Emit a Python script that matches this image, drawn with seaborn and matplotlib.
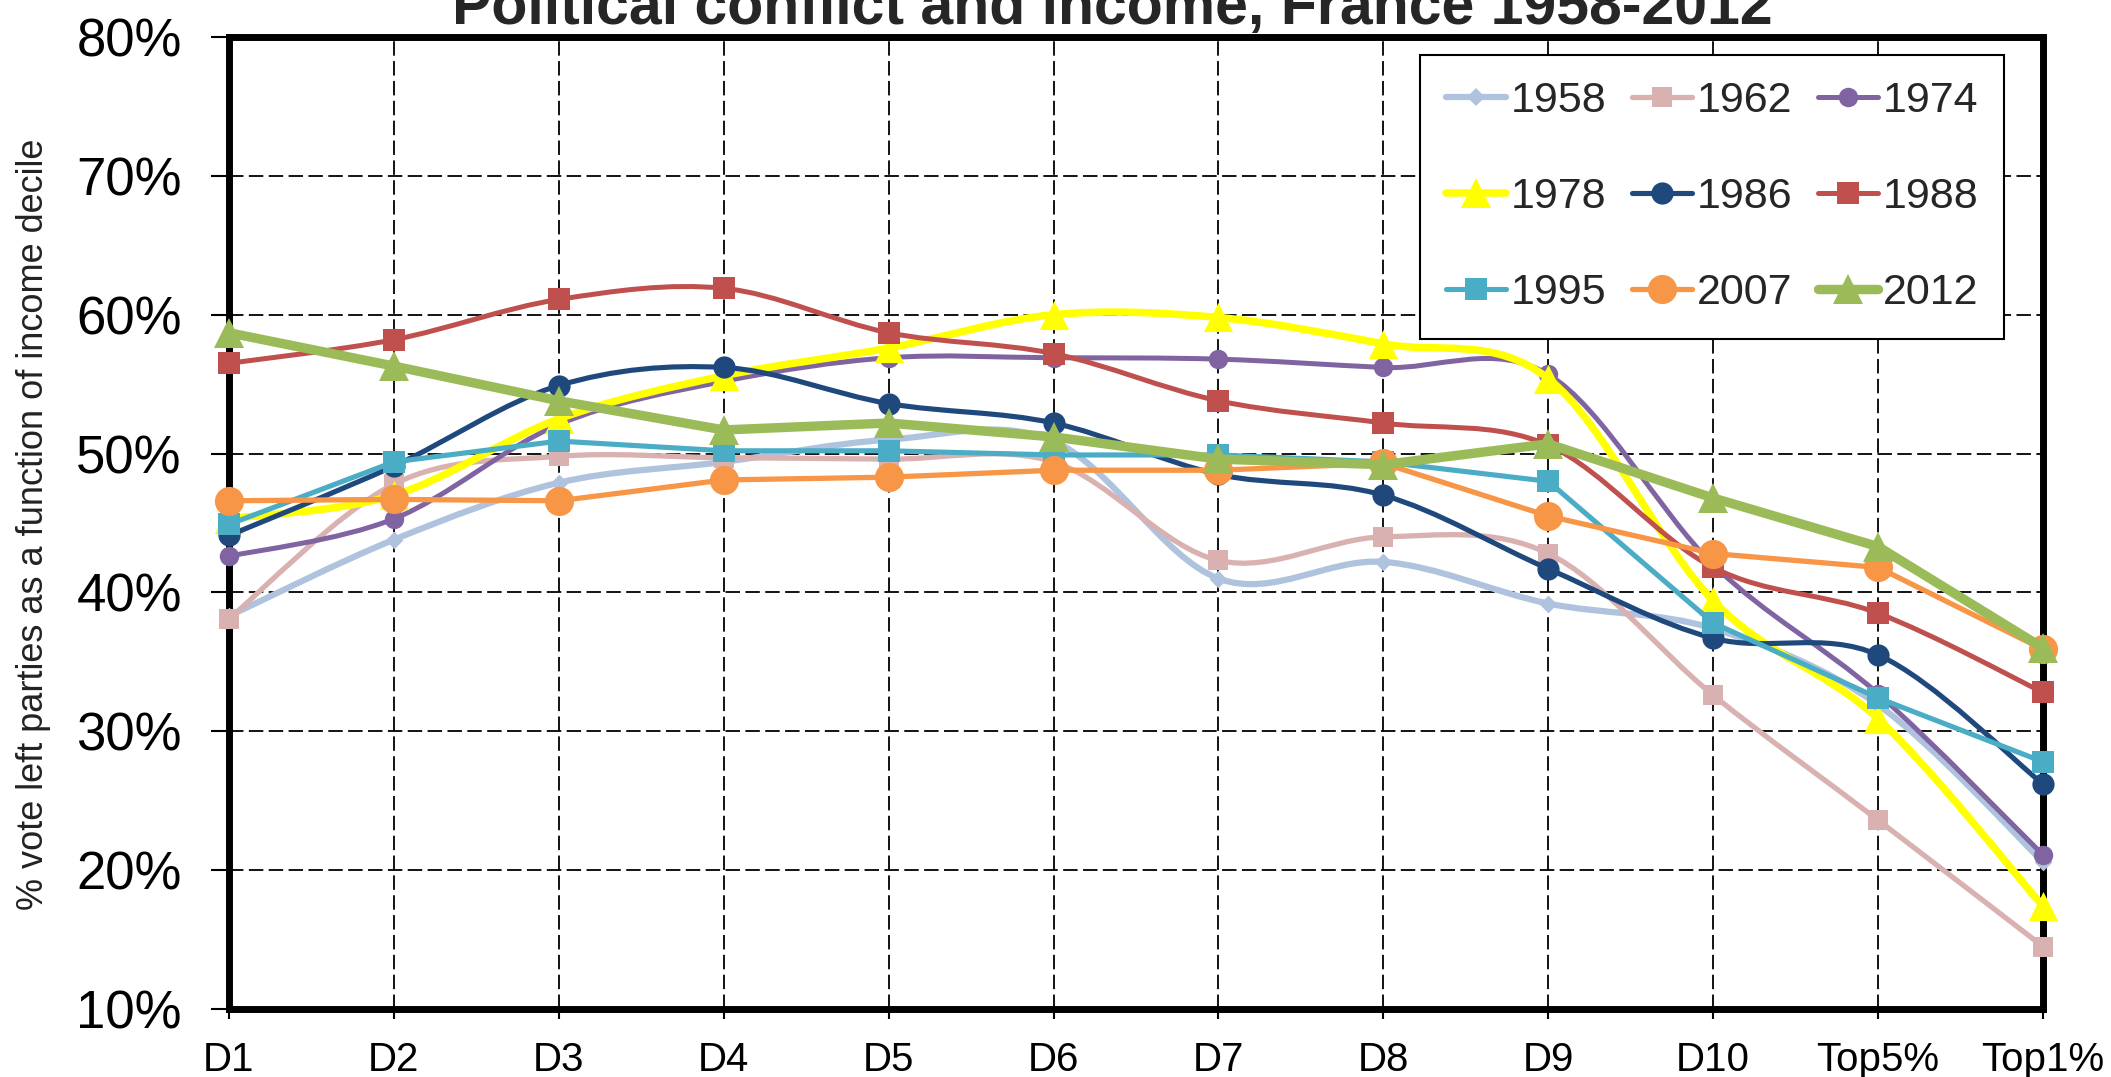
import numpy as np
import matplotlib
matplotlib.use("Agg")
import matplotlib.pyplot as plt
import seaborn as sns
from matplotlib.path import Path
from matplotlib.patches import PathPatch
from matplotlib.lines import Line2D

# data (% vote for left parties)
deciles = ["D1", "D2", "D3", "D4", "D5", "D6", "D7", "D8", "D9", "D10", "Top5%", "Top1%"]
years = ["1958", "1962", "1974", "1978", "1986", "1988", "1995", "2007", "2012"]

v1958 = [38.3, 43.8, 47.9, 49.4, 51.0, 50.9, 41.0, 42.2, 39.2, 37.4, 31.9, 20.6]
v1962 = [38.1, 47.8, 49.8, 49.7, 49.6, 49.4, 42.3, 44.0, 42.8, 32.6, 23.6, 14.5]
v1974 = [42.6, 45.3, 52.1, 55.2, 56.9, 56.9, 56.8, 56.2, 55.7, 42.0, 32.7, 21.1]
v1978 = [45.3, 47.0, 52.5, 55.6, 57.6, 60.0, 59.8, 57.9, 55.4, 39.4, 30.9, 17.4]
v1986 = [44.1, 49.1, 54.9, 56.2, 53.6, 52.2, 48.5, 47.0, 41.7, 36.7, 35.5, 26.2]
v1988 = [56.5, 58.2, 61.1, 61.9, 58.7, 57.2, 53.8, 52.2, 50.6, 41.8, 38.5, 32.8]
v1995 = [44.9, 49.4, 50.9, 50.2, 50.2, 49.9, 49.9, 49.4, 48.0, 37.8, 32.4, 27.8]
v2007 = [46.6, 46.7, 46.6, 48.1, 48.3, 48.8, 48.8, 49.3, 45.5, 42.8, 41.8, 35.9]
v2012 = [58.7, 56.3, 53.8, 51.7, 52.2, 51.2, 49.6, 49.2, 50.7, 46.8, 43.3, 36.0]

values = [v1958, v1962, v1974, v1978, v1986, v1988, v1995, v2007, v2012]

# style per series: color, linewidth, marker, markersize, smoothed line
styles = {
    "1958": ("#AFC3DE", 4.5, "D", 9, True),
    "1962": ("#D9B1B0", 3.8, "s", 15, True),
    "1974": ("#8064A2", 3.6, "o", 14, True),
    "1978": ("#FFFF00", 5.4, "^", 21, True),
    "1986": ("#1F497D", 3.7, "o", 16, True),
    "1988": ("#C0504D", 3.6, "s", 16, True),
    "1995": ("#4BACC6", 3.7, "s", 16, False),
    "2007": ("#F79646", 3.8, "o", 21, False),
    "2012": ("#9BBB59", 6.8, "^", 21, False),
}


def smooth_path(xs, ys):
    # excel-like smoothed line: bezier segments through the data points
    pts = np.column_stack([xs, ys]).astype(float)
    n = len(pts)
    verts = [pts[0]]
    codes = [Path.MOVETO]
    for i in range(n - 1):
        p0 = pts[max(i - 1, 0)]
        p1 = pts[i]
        p2 = pts[i + 1]
        p3 = pts[min(i + 2, n - 1)]
        verts += [p1 + (p2 - p0) / 6, p2 - (p3 - p1) / 6, p2]
        codes += [Path.CURVE4] * 3
    return Path(verts, codes)


sns.set_theme(style="white")
plt.rcParams["font.family"] = ["Liberation Sans", "DejaVu Sans"]

fig = plt.figure(figsize=(21.11, 10.77), dpi=100)
ax = fig.add_axes([229 / 2111, 1 - 1009 / 1077, 1814 / 2111, 972 / 1077])

xpos = np.arange(len(deciles))
handles = []
for i, (year, vals) in enumerate(zip(years, values)):
    color, lw, mk, ms, smooth = styles[year]
    z = 3 + i
    if smooth:
        patch = PathPatch(smooth_path(xpos, vals), fill=False, edgecolor=color,
                          lw=lw, capstyle="round", joinstyle="round",
                          zorder=z, clip_on=False)
        ax.add_patch(patch)
        sns.scatterplot(x=xpos, y=vals, ax=ax, color=color, marker=mk,
                        s=ms ** 2, linewidth=0, zorder=z + 0.5,
                        clip_on=False, legend=False)
    else:
        sns.lineplot(x=xpos, y=vals, ax=ax, color=color, lw=lw, marker=mk,
                     markersize=ms, markeredgewidth=0, zorder=z,
                     clip_on=False, legend=False)
    handles.append(Line2D([], [], color=color, lw=lw, marker=mk,
                          markersize=ms, markeredgewidth=0))

ax.set_xlim(0, len(deciles) - 1)
ax.set_ylim(10, 80)
ax.set_xticks(xpos)
ax.set_xticklabels(deciles)
ax.set_yticks(np.arange(10, 81, 10))
ax.set_yticklabels([f"{t}%" for t in range(10, 81, 10)])
ax.set_xlabel("")
ax.set_ylabel("")

ax.grid(True, color="black", lw=1.3, ls=(0, (8, 3)))
ax.set_axisbelow(True)
for side in ["left", "bottom", "right", "top"]:
    ax.spines[side].set_color("black")
    ax.spines[side].set_linewidth(5)

ax.tick_params(axis="y", left=True, direction="out", length=13, width=1.5,
               pad=21, labelsize=38, colors="black")
ax.tick_params(axis="x", bottom=True, direction="out", length=7, width=1.5,
               pad=16, labelsize=29, colors="black")

# legend: 3 columns, rows read across
order = [0, 3, 6, 1, 4, 7, 2, 5, 8]
leg = ax.legend([handles[k] for k in order], [years[k] for k in order],
                ncol=3, loc="upper left",
                bbox_to_anchor=(1420 / 2111, 1 - 55 / 1077),
                bbox_transform=fig.transFigure, fontsize=31,
                frameon=True, fancybox=False, edgecolor="black",
                framealpha=1, borderpad=0.6, labelspacing=1.3,
                handlelength=1.4, handletextpad=0.1, columnspacing=0.6,
                borderaxespad=0)
leg.get_frame().set_linewidth(1.5)
leg.set_zorder(20)

fig.text(0.527, 1 - 24 / 1077, "Political conflict and income, France 1958-2012",
         ha="center", va="baseline", fontsize=42.5, fontweight="bold")
fig.text(34 / 2111, 1 - 524 / 1077,
         "% vote left parties as a function of income decile",
         rotation=90, ha="center", va="center", fontsize=26, color="#222222")

fig.savefig("out.png", dpi=100)
